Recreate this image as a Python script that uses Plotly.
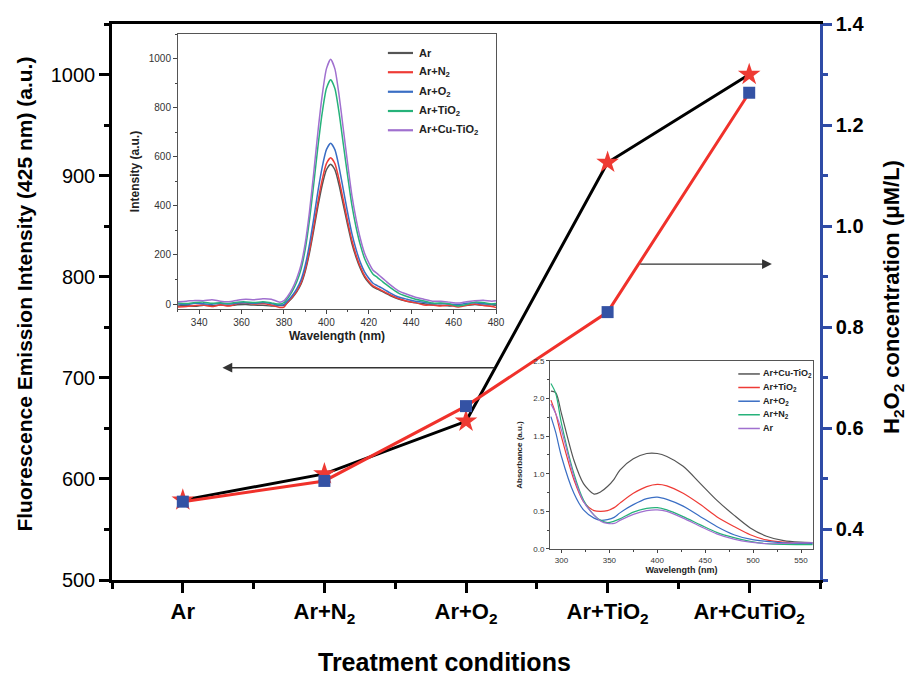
import plotly.graph_objects as go

FONT = "Arial, 'Liberation Sans', sans-serif"

# ---------------- main data ----------------
categories = ["Ar", "Ar+N<sub>2</sub>", "Ar+O<sub>2</sub>", "Ar+TiO<sub>2</sub>", "Ar+CuTiO<sub>2</sub>"]
fluorescence = [579, 605, 657, 913, 1000]          # left axis (a.u.)
h2o2 = [0.455, 0.496, 0.644, 0.830, 1.264]         # right axis (uM/L)

# ---------------- inset 1: fluorescence spectra ----------------
fl_wl = [330, 334, 338, 342, 346, 350, 354, 358, 362, 366, 370, 374, 378,
         380, 382, 384, 386, 388, 390, 392, 394, 396, 398, 400, 402, 404, 406,
         408, 410, 412, 414, 416, 418, 420, 422, 424, 426, 428, 430,
         434, 438, 442, 446, 450,
         454, 458, 462, 466, 470, 474, 478, 480]
fl_names = ["Ar", "Ar+N<sub>2</sub>", "Ar+O<sub>2</sub>", "Ar+TiO<sub>2</sub>", "Ar+Cu-TiO<sub>2</sub>"]
fl_ar = [-8, -6, -9, -5, -7, -4, -6, -3, -2, -4, -5, -8, -6,
         -5, 9, 27, 50, 81, 133, 208, 300, 398, 484, 547, 570, 547, 484,
         403, 323, 248, 191, 145, 110, 87, 70, 61, 53, 44, 35,
         21, 12, 5, 1, -4,
         -5, -8, -4, -6, -2, -5, -3, -5]
fl_n2 = [-12, -10, -6, -4, -10, -3, -8, 2, 4, 0, 2, -4, -14,
         -12, 11, 29, 53, 86, 140, 218, 314, 416, 506, 572, 596, 572, 506,
         422, 338, 260, 200, 152, 116, 92, 74, 65, 56, 47, 38,
         23, 12, 6, -4, -4,
         -8, -4, -12, -5, 0, -6, -10, -14]
fl_o2 = [0, -2, 3, 1, -1, 3, 0, 4, 5, 3, 6, 2, -4,
         -2, 16, 36, 62, 98, 157, 242, 347, 459, 557, 629, 655, 629, 557,
         465, 373, 288, 223, 170, 131, 105, 85, 75, 66, 56, 46,
         29, 20, 12, 7, 2,
         2, 0, -2, 3, 5, 1, -1, 0]
fl_tio2 = [4, 2, 6, 8, 3, 5, 2, 8, 9, 6, 10, 5, 0,
           6, 27, 54, 90, 141, 222, 341, 486, 641, 778, 878, 914, 878, 778,
           650, 523, 404, 313, 241, 186, 150, 122, 109, 95, 81, 68,
           45, 31, 20, 13, 4,
           4, 0, -8, -2, 8, 6, 0, 2]
fl_cutio2 = [10, 12, 15, 14, 18, 12, 10, 16, 20, 18, 22, 20, 8,
             14, 35, 64, 104, 158, 247, 375, 533, 701, 849, 958, 997, 958, 849,
             711, 573, 444, 346, 267, 207, 168, 138, 124, 109, 94, 79,
             54, 40, 28, 20, 12,
             12, 8, 4, 10, 14, 16, 12, 14]
fl_colors = ["#555555", "#ee3b36", "#3a6ec4", "#26b27a", "#a070cf"]

# ---------------- inset 2: absorbance spectra ----------------
ab_wl = [289, 294, 300, 313, 323, 334, 341, 348, 355, 361, 375, 389, 400,
         410, 427, 445, 462, 480, 497, 514, 532, 549, 562]
ab_names = ["Ar+Cu-TiO<sub>2</sub>", "Ar+TiO<sub>2</sub>", "Ar+O<sub>2</sub>", "Ar+N<sub>2</sub>", "Ar"]
ab_cutio2 = [2.10, 2.08, 1.80, 1.18, 0.87, 0.73, 0.76, 0.83, 0.93, 1.05, 1.20, 1.27, 1.27,
             1.23, 1.10, 0.87, 0.65, 0.45, 0.28, 0.17, 0.11, 0.09, 0.085]
ab_tio2 = [1.98, 1.80, 1.49, 0.92, 0.63, 0.51, 0.50, 0.51, 0.55, 0.61, 0.74, 0.83, 0.86,
           0.84, 0.74, 0.59, 0.43, 0.30, 0.19, 0.12, 0.09, 0.07, 0.066]
ab_o2 = [1.76, 1.55, 1.23, 0.74, 0.52, 0.41, 0.38, 0.39, 0.42, 0.48, 0.59, 0.67, 0.69,
         0.66, 0.57, 0.43, 0.30, 0.19, 0.13, 0.10, 0.08, 0.07, 0.07]
ab_n2 = [2.20, 2.07, 1.67, 1.00, 0.65, 0.45, 0.38, 0.35, 0.37, 0.40, 0.49, 0.54, 0.55,
         0.52, 0.43, 0.32, 0.22, 0.15, 0.10, 0.07, 0.06, 0.058, 0.057]
ab_ar = [1.93, 1.80, 1.58, 0.96, 0.63, 0.45, 0.37, 0.34, 0.34, 0.38, 0.46, 0.51, 0.52,
         0.50, 0.41, 0.30, 0.20, 0.13, 0.09, 0.07, 0.075, 0.08, 0.085]
ab_colors = ["#555555", "#ee3b36", "#3a6ec4", "#26b27a", "#a070cf"]

x_idx = list(range(len(categories)))

fig = go.Figure()

# main traces
fig.add_trace(go.Scatter(x=x_idx, y=fluorescence, mode="lines+markers",
                         line=dict(color="black", width=3),
                         marker=dict(symbol="star", size=17, color="#ee3a33", line=dict(width=0)),
                         xaxis="x", yaxis="y", showlegend=False))
fig.add_trace(go.Scatter(x=x_idx, y=h2o2, mode="lines+markers",
                         line=dict(color="#f0312b", width=3),
                         marker=dict(symbol="square", size=12, color="#3452a4", line=dict(width=0)),
                         xaxis="x", yaxis="y2", showlegend=False))

# inset 1 traces
for ys, c in zip([fl_ar, fl_n2, fl_o2, fl_tio2, fl_cutio2], fl_colors):
    fig.add_trace(go.Scatter(x=fl_wl, y=ys, mode="lines", line=dict(color=c, width=1.5, shape="spline", smoothing=0.6),
                             xaxis="x3", yaxis="y3", showlegend=False))
# inset 2 traces
for ys, c in zip([ab_cutio2, ab_tio2, ab_o2, ab_n2, ab_ar], ab_colors):
    fig.add_trace(go.Scatter(x=ab_wl, y=ys, mode="lines", line=dict(color=c, width=1.2, shape="spline", smoothing=0.8),
                             xaxis="x4", yaxis="y4", showlegend=False))

shapes = []
annotations = []

# manual legend inset 1
leg1_y = [0.931, 0.861, 0.790, 0.720, 0.650]
for name, c, yy in zip(fl_names, fl_colors, leg1_y):
    shapes.append(dict(type="line", xref="x3 domain", yref="y3 domain",
                       x0=0.660, x1=0.739, y0=yy, y1=yy, line=dict(color=c, width=2.2)))
    annotations.append(dict(xref="x3 domain", yref="y3 domain", x=0.752, y=yy, text=name,
                            showarrow=False, xanchor="left", yanchor="middle",
                            font=dict(family=FONT, size=11, color="#222", weight="bold")))
# manual legend inset 2
leg2_y = [0.931, 0.859, 0.786, 0.714, 0.641]
for name, c, yy in zip(ab_names, ab_colors, leg2_y):
    shapes.append(dict(type="line", xref="x4 domain", yref="y4 domain",
                       x0=0.716, x1=0.798, y0=yy, y1=yy, line=dict(color=c, width=1.5)))
    annotations.append(dict(xref="x4 domain", yref="y4 domain", x=0.802, y=yy, text=name,
                            showarrow=False, xanchor="left", yanchor="middle",
                            font=dict(family=FONT, size=9, color="#222", weight="bold")))

# arrows
annotations.append(dict(xref="x", yref="y", x=0.28, y=710, axref="x", ayref="y", ax=2.21, ay=710,
                        showarrow=True, arrowhead=2, arrowsize=1.4, arrowwidth=1.4, arrowcolor="#333", text=""))
annotations.append(dict(xref="x", yref="y2", x=4.16, y=0.925, axref="x", ayref="y2", ax=3.22, ay=0.925,
                        showarrow=True, arrowhead=2, arrowsize=1.4, arrowwidth=1.4, arrowcolor="#333", text=""))

# axis titles
annotations.append(dict(xref="paper", yref="paper", x=-0.123, y=0.515, textangle=-90,
                        text="Fluorescence Emission Intensity (425 nm) (a.u.)", showarrow=False,
                        xanchor="center", yanchor="middle",
                        font=dict(family=FONT, size=21, color="black", weight="bold")))
annotations.append(dict(xref="paper", yref="paper", x=1.103, y=0.509, textangle=-90,
                        text="H<sub>2</sub>O<sub>2</sub> concentration (\u03bcM/L)", showarrow=False,
                        xanchor="center", yanchor="middle",
                        font=dict(family=FONT, size=22, color="black", weight="bold")))
annotations.append(dict(xref="paper", yref="paper", x=0.469, y=-0.1475,
                        text="Treatment conditions", showarrow=False,
                        xanchor="center", yanchor="middle",
                        font=dict(family=FONT, size=25, color="black", weight="bold")))

inset_tick_font1 = dict(family=FONT, size=10, color="#333")
inset_tick_font2 = dict(family=FONT, size=8, color="#333")

# page body has an 8px default margin -> compensate so the plot area lands where the reference has it
fig.update_layout(
    width=911, height=668,
    margin=dict(l=104, r=99, t=16, b=96, autoexpand=False),
    paper_bgcolor="white", plot_bgcolor="white",
    font=dict(family=FONT, color="black"),
    showlegend=False,
    xaxis=dict(domain=[0, 1], range=[-0.5, 4.5], tickvals=x_idx, ticktext=categories,
               ticks="outside", ticklen=10, tickwidth=2.5, tickcolor="black",
               showline=True, linewidth=2.5, linecolor="black", mirror=True,
               showgrid=False, zeroline=False,
               minor=dict(tickvals=[-0.5, 0.5, 1.5, 2.5, 3.5, 4.5], ticks="outside", ticklen=6,
                          tickwidth=2.5, tickcolor="black", showgrid=False),
               tickfont=dict(family=FONT, size=22, color="black", weight="bold")),
    yaxis=dict(domain=[0, 1], range=[500, 1050], dtick=100, tick0=0,
               ticks="outside", ticklen=10, tickwidth=2.5, tickcolor="black",
               showline=True, linewidth=2.5, linecolor="black",
               showgrid=False, zeroline=False,
               minor=dict(dtick=50, ticks="outside", ticklen=5, tickwidth=2.5, tickcolor="black", showgrid=False),
               tickfont=dict(family=FONT, size=20, color="black")),
    yaxis2=dict(overlaying="y", side="right", anchor="x", range=[0.3, 1.4], dtick=0.2, tick0=0.4,
                tickformat=".1f",
                ticks="outside", ticklen=9, tickwidth=2.5, tickcolor="#2f4ba6",
                showline=True, linewidth=2.5, linecolor="#2f4ba6",
                showgrid=False, zeroline=False,
                minor=dict(dtick=0.1, tick0=0.3, ticks="outside", ticklen=5, tickwidth=2.5, tickcolor="#2f4ba6", showgrid=False),
                tickfont=dict(family=FONT, size=20, color="black", weight="bold")),
    xaxis3=dict(domain=[0.0932, 0.5424], anchor="y3", range=[330, 480], dtick=20, tick0=0,
                ticks="outside", ticklen=4, tickwidth=1, tickcolor="#444",
                showline=True, linewidth=1, linecolor="#555", mirror=True,
                showgrid=False, zeroline=False,
                minor=dict(dtick=10, ticks="outside", ticklen=2, tickwidth=1, tickcolor="#444", showgrid=False),
                tickfont=inset_tick_font1,
                title=dict(text="Wavelength (nm)", standoff=4,
                           font=dict(family=FONT, size=12, color="#222", weight="bold"))),
    yaxis3=dict(domain=[0.4874, 0.982], anchor="x3", range=[-20, 1100], dtick=200, tick0=0,
                ticks="outside", ticklen=4, tickwidth=1, tickcolor="#444",
                showline=True, linewidth=1, linecolor="#555", mirror=True,
                showgrid=False, zeroline=False,
                minor=dict(dtick=100, ticks="outside", ticklen=2, tickwidth=1, tickcolor="#444", showgrid=False),
                tickfont=inset_tick_font1,
                title=dict(text="Intensity (a.u.)", standoff=6,
                           font=dict(family=FONT, size=12, color="#222", weight="bold"))),
    xaxis4=dict(domain=[0.6186, 0.9901], anchor="y4", range=[288, 562.5], dtick=50, tick0=0,
                ticks="outside", ticklen=3, tickwidth=1, tickcolor="#444",
                showline=True, linewidth=1, linecolor="#555", mirror=True,
                showgrid=False, zeroline=False,
                minor=dict(dtick=25, ticks="outside", ticklen=2, tickwidth=1, tickcolor="#444", showgrid=False),
                tickfont=inset_tick_font2,
                title=dict(text="Wavelength (nm)", standoff=3,
                           font=dict(family=FONT, size=9, color="#222", weight="bold"))),
    yaxis4=dict(domain=[0.0558, 0.3939], anchor="x4", range=[0, 2.5], dtick=0.5, tick0=0,
                tickformat=".1f",
                ticks="outside", ticklen=3, tickwidth=1, tickcolor="#444",
                showline=True, linewidth=1, linecolor="#555", mirror=True,
                showgrid=False, zeroline=False,
                minor=dict(dtick=0.25, ticks="outside", ticklen=2, tickwidth=1, tickcolor="#444", showgrid=False),
                tickfont=inset_tick_font2,
                title=dict(text="Absorbance (a.u.)", standoff=9,
                           font=dict(family=FONT, size=8, color="#222", weight="bold"))),
    shapes=shapes,
    annotations=annotations,
)

fig.write_html("out.html")
